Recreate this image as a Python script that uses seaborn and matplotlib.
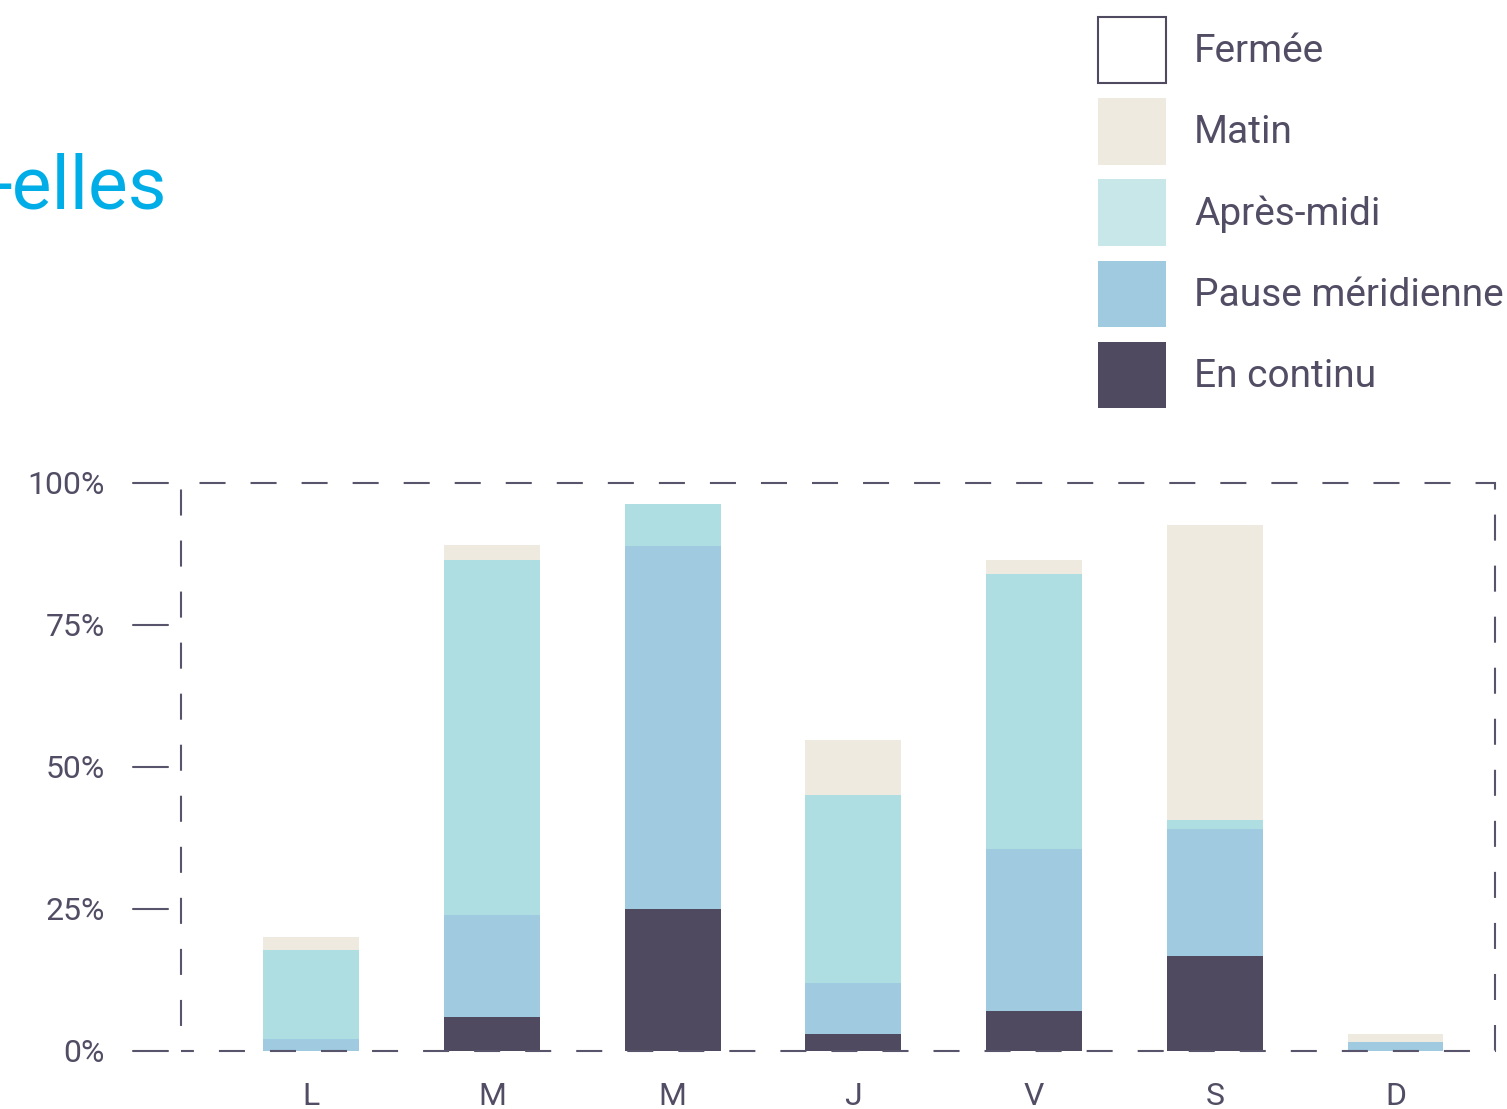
import numpy as np
import pandas as pd
import matplotlib
matplotlib.use("Agg")
import matplotlib.pyplot as plt
import matplotlib.patches as mpatches
import matplotlib.transforms as mtransforms
import seaborn as sns

# Data (% of respondents per day)
jours = ["lun", "mar", "mer", "jeu", "ven", "sam", "dim"]
jour_labels = ["L", "M", "M", "J", "V", "S", "D"]
en_continu = [0.0, 6.0, 25.0, 3.0, 7.0, 16.7, 0.0]
pause_meridienne = [2.1, 17.9, 63.9, 9.0, 28.6, 22.4, 1.6]
apres_midi = [15.7, 62.5, 7.4, 33.1, 48.4, 1.6, 0.0]
matin = [2.3, 2.7, 0.0, 9.7, 2.4, 51.9, 1.4]

yticks = [0, 25, 50, 75, 100]
ytick_labels = ["0%", "25%", "50%", "75%", "100%"]
legend_labels = ["Fermée", "Matin", "Après-midi", "Pause méridienne", "En continu"]

# Colours
c_text = "#524d64"
c_line = "#58546b"
c_continu = "#4f4a60"
c_pause = "#9fcae0"
c_apres = "#afdee2"
c_apres_leg = "#c8e7e8"
c_matin = "#eeeae0"
c_title = "#00ade6"

sns.set_style("white")
plt.rcParams["font.family"] = ["Roboto", "DejaVu Sans"]

df = pd.DataFrame({
    "jour": jours,
    "continu": en_continu,
    "pause": pause_meridienne,
    "apres": apres_midi,
    "matin": matin,
})
df["top_continu"] = df["continu"]
df["top_pause"] = df["top_continu"] + df["pause"]
df["top_apres"] = df["top_pause"] + df["apres"]
df["top_matin"] = df["top_apres"] + df["matin"]

fig = plt.figure(figsize=(15.07, 11.09), dpi=100)
ax = fig.add_axes([181 / 1507, 58 / 1109, 1314 / 1507, 568 / 1109])

# stacked bars: draw cumulative totals from the top layer down
for col, color in [("top_matin", c_matin), ("top_apres", c_apres),
                   ("top_pause", c_pause), ("top_continu", c_continu)]:
    sns.barplot(data=df, x="jour", y=col, order=jours, color=color,
                width=0.53, linewidth=0, saturation=1, ax=ax)

ax.set_xlim(-0.72, 6.55)
ax.set_ylim(0, 100)
ax.set_xlabel("")
ax.set_ylabel("")
for s in ax.spines.values():
    s.set_visible(False)

ax.set_xticks(range(len(jours)))
ax.set_xticklabels(jour_labels)
ax.set_yticks(yticks)
ax.set_yticklabels(ytick_labels)
ax.tick_params(axis="both", length=0, labelsize=23, labelcolor=c_text)
ax.tick_params(axis="y", pad=55)
ax.tick_params(axis="x", pad=22)

# dashed frame on top of the bars
frame = mpatches.Rectangle((0, 0), 1, 1, transform=ax.transAxes, fill=False,
                           edgecolor=c_line, linewidth=1.5, clip_on=False,
                           linestyle=(6.3, (12.5, 12)), zorder=5)
ax.add_patch(frame)

# tick dashes to the left of the frame
trans = mtransforms.blended_transform_factory(ax.transAxes, ax.transData)
for v in yticks:
    ax.plot([-0.0365, -0.0099], [v, v], color=c_line, linewidth=1.5,
            transform=trans, clip_on=False)

# legend
handles = [mpatches.Patch(facecolor="white", edgecolor=c_continu, linewidth=1.5),
           mpatches.Patch(facecolor=c_matin, linewidth=0),
           mpatches.Patch(facecolor=c_apres_leg, linewidth=0),
           mpatches.Patch(facecolor=c_pause, linewidth=0),
           mpatches.Patch(facecolor=c_continu, linewidth=0)]
fig.legend(handles, legend_labels, loc="upper left",
           bbox_to_anchor=(1098 / 1507, 1 - 17 / 1109), frameon=False,
           fontsize=28, labelcolor=c_text, borderpad=0, borderaxespad=0,
           handlelength=1.75, handleheight=2.25, labelspacing=0.38,
           handletextpad=0.72)

# title fragment (cut off at the left edge, as in the source)
fig.text(167 / 1507, 1 - 188 / 1109, "-elles", color=c_title, fontsize=54,
         ha="right", va="center")

fig.savefig("out.png", dpi=100)
